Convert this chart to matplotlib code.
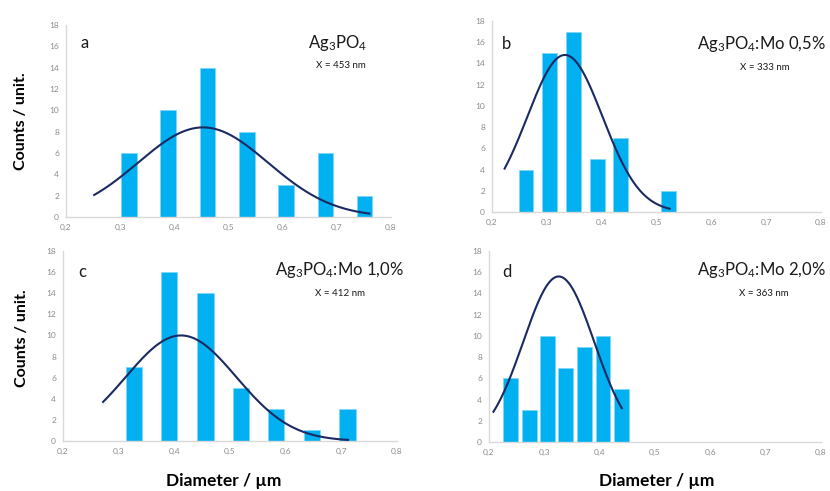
import numpy as np
import matplotlib
matplotlib.use("Agg")
import matplotlib.pyplot as plt

plt.rcParams['font.family'] = ['Lato', 'DejaVu Sans']
plt.rcParams['mathtext.fontset'] = 'custom'
plt.rcParams['mathtext.rm'] = 'Lato'
plt.rcParams['mathtext.it'] = 'Lato:italic'
plt.rcParams['mathtext.bf'] = 'Lato:bold'

# ---- data ----
a_centers = [0.316, 0.388, 0.461, 0.534, 0.606, 0.679, 0.751]
a_counts = [6, 10, 14, 8, 3, 6, 2]
b_centers = [0.262, 0.305, 0.348, 0.392, 0.435, 0.479, 0.522]
b_counts = [4, 15, 17, 5, 7, 0, 2]
c_centers = [0.328, 0.391, 0.456, 0.519, 0.583, 0.648, 0.711]
c_counts = [7, 16, 14, 5, 3, 1, 3]
d_centers = [0.239, 0.273, 0.306, 0.339, 0.372, 0.406, 0.440]
d_counts = [6, 3, 10, 7, 9, 10, 5]

# normal-fit curves: (mean, sigma, peak, x_start, x_end)
a_fit = (0.453, 0.120, 8.4, 0.252, 0.760)
b_fit = (0.333, 0.0686, 14.8, 0.223, 0.524)
c_fit = (0.412, 0.0993, 10.0, 0.272, 0.712)
d_fit = (0.326, 0.064, 15.6, 0.208, 0.440)

letters = ['a', 'b', 'c', 'd']
titles = [r'Ag$_3$PO$_4$', r'Ag$_3$PO$_4$:Mo 0,5%', r'Ag$_3$PO$_4$:Mo 1,0%', r'Ag$_3$PO$_4$:Mo 2,0%']
sizes = ['X = 453 nm', 'X = 333 nm', 'X = 412 nm', 'X = 363 nm']
x_ticks = [0.2, 0.3, 0.4, 0.5, 0.6, 0.7, 0.8]
x_ticklabels = ['0,2', '0,3', '0,4', '0,5', '0,6', '0,7', '0,8']
y_ticks = [0, 2, 4, 6, 8, 10, 12, 14, 16, 18]

bar_widths = [0.029, 0.027, 0.029, 0.027]

BAR = '#00B0F0'
LINE = '#1B2A63'
GRID = '#D9D9D9'
TICK = '#8C8C8C'

W, H = 830, 491
fig = plt.figure(figsize=(8.3, 4.91), dpi=100)

# axes boxes in pixels: (x0, x1, ytop, ybottom)
boxes = [(66, 391, 25, 217), (492, 821, 21, 212), (63, 397, 251, 441), (489, 821, 251, 442)]
# text positions in pixels
letter_pos = [(80, 43), (502, 44), (78, 272), (502, 272)]
title_pos = [(367, 43), (826, 44), (404, 270), (826, 270)]
size_pos = [(341, 65), (765, 67), (340, 293), (764, 293)]

all_centers = [a_centers, b_centers, c_centers, d_centers]
all_counts = [a_counts, b_counts, c_counts, d_counts]
fits = [a_fit, b_fit, c_fit, d_fit]

for i in range(4):
    x0, x1, yt, yb = boxes[i]
    ax = fig.add_axes([x0 / W, 1 - yb / H, (x1 - x0) / W, (yb - yt) / H])
    ax.bar(all_centers[i], all_counts[i], width=bar_widths[i], color=BAR,
           edgecolor='#7FD7F7', linewidth=0.6, zorder=2)
    mu, sd, pk, xs, xe = fits[i]
    xx = np.linspace(xs, xe, 200)
    ax.plot(xx, pk * np.exp(-(xx - mu) ** 2 / (2 * sd ** 2)), color=LINE, lw=1.5, zorder=3)
    ax.set_xlim(0.2, 0.8)
    ax.set_ylim(0, 18)
    ax.set_xticks(x_ticks)
    ax.set_xticklabels(x_ticklabels)
    ax.set_yticks(y_ticks)
    ax.tick_params(length=0, labelsize=6, colors=TICK, pad=5)
    for s in ['top', 'right']:
        ax.spines[s].set_visible(False)
    for s in ['left', 'bottom']:
        ax.spines[s].set_color(GRID)
        ax.spines[s].set_linewidth(1.0)
    ax.patch.set_alpha(0)

    lx, ly = letter_pos[i]
    fig.text(lx / W, 1 - ly / H, letters[i], fontsize=12, ha='left', va='center', color='#1a1a1a')
    tx, ty = title_pos[i]
    fig.text(tx / W, 1 - ty / H, titles[i], fontsize=12, ha='right', va='center', color='#1a1a1a')
    sx, sy = size_pos[i]
    fig.text(sx / W, 1 - sy / H, sizes[i], fontsize=7, ha='center', va='center', color='#1a1a1a')

fig.text(21 / W, 1 - 121 / H, 'Counts / unit.', rotation=90, fontsize=11.5, fontweight='bold',
         ha='center', va='center')
fig.text(22 / W, 1 - 338 / H, 'Counts / unit.', rotation=90, fontsize=11.5, fontweight='bold',
         ha='center', va='center')
fig.text(224 / W, 1 - 481 / H, 'Diameter / µm', fontsize=12.5, fontweight='bold',
         ha='center', va='center')
fig.text(657 / W, 1 - 481 / H, 'Diameter / µm', fontsize=12.5, fontweight='bold',
         ha='center', va='center')

fig.savefig('out.png', dpi=100, facecolor='white')
